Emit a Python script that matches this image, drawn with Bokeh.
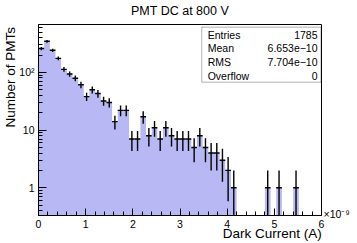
import numpy as np
from math import log10
from bokeh.plotting import figure
from bokeh.models import (Label, BoxAnnotation, FixedTicker, SingleIntervalTicker,
                          ColumnDataSource, LogAxis, LinearAxis)
from bokeh.embed import file_html
from bokeh.resources import INLINE

# ---------------- data ----------------
title_text = "PMT DC at 800 V"
x_title = "Dark Current (A)"
y_title = "Number of PMTs"
x_multiplier = "×10⁻⁹"
bin_start = 0.0      # units of 1e-9 A
bin_width = 0.12
counts = [259, 346, 242, 175, 113, 94, 79, 61, 38, 50,
          43, 32, 30, 14, 22, 22, 7, 7, 17, 8,
          11, 7, 11, 8, 7, 7, 7, 5, 8, 5,
          4, 4, 3, 2, 1, 0, 0, 0, 0, 0,
          1, 0, 1, 0, 0, 1, 0, 0, 0, 0]
x_ticks = [0, 1, 2, 3, 4, 5, 6]
y_ticks = [1, 10, 100]
y_tick_labels = ["1", "10", "10²"]
stats_names = ["Entries", "Mean", "RMS", "Overflow"]
stats_values = ["1785", "6.653e−10", "7.704e−10", "0"]

# ---------------- layout ----------------
FONT = "Liberation Sans"
FILL = "#b8b8f4"
X0, X1 = 0.0, 6.0
Y0, Y1 = 0.331, 676.0
FL, FR, FT, FB = 35, 321, 24, 217   # frame position in the picture (px)
W, H = 357, 243

def dx(px):
    return X0 + (px - FL) / (FR - FL) * (X1 - X0)

def dy(py):
    ly0, ly1 = log10(Y0), log10(Y1)
    return 10 ** (ly1 - (py - FT) / (FB - FT) * (ly1 - ly0))

p = figure(width=W, height=H, output_backend="svg", toolbar_location=None, title=None,
           x_range=(X0, X1), y_range=(Y0, Y1), y_axis_type="log",
           min_border_left=FL, min_border_right=W - FR,
           min_border_top=FT, min_border_bottom=H - FB)
p.background_fill_color = "white"
p.border_fill_color = "white"
p.outline_line_color = "black"
p.outline_line_width = 1
p.xgrid.visible = False
p.ygrid.visible = False

N = np.array(counts, dtype=float)
edges = bin_start + np.arange(len(counts) + 1) * bin_width
floor = Y0 * 0.5
fill_top = np.where(N > 0, N, floor)
p.varea_step(x=edges, y1=np.full(len(edges), floor),
             y2=np.append(fill_top, fill_top[-1]), step_mode="after",
             fill_color=FILL)

mask = N > 0
lo_edges = edges[:-1][mask]
hi_edges = edges[1:][mask]
centers = (lo_edges + hi_edges) / 2
vals = N[mask]
err = np.sqrt(vals)
src = ColumnDataSource(dict(left=lo_edges, right=hi_edges, x=centers, y=vals,
                            lo=np.maximum(vals - err, floor), hi=vals + err))
p.segment(x0="x", x1="x", y0="lo", y1="hi", source=src, line_color="black", line_width=1.4)
p.segment(x0="left", x1="right", y0="y", y1="y", source=src, line_color="black", line_width=1.4)

# main axes
for ax in (p.xaxis[0], p.yaxis[0]):
    ax.axis_line_color = "black"
    ax.major_tick_line_color = "black"
    ax.minor_tick_line_color = "black"
    ax.major_tick_out = 0
    ax.minor_tick_out = 0
    ax.major_label_text_font = FONT
    ax.major_label_text_font_size = "10.5px"
    ax.major_label_text_color = "black"
    ax.major_label_standoff = 4
    ax.axis_label = None

p.xaxis.ticker = SingleIntervalTicker(interval=1, num_minor_ticks=5)
p.xaxis.major_tick_in = 7
p.xaxis.minor_tick_in = 4

minor = [m * 10 ** k for k in range(-1, 3) for m in range(2, 10) if Y0 <= m * 10 ** k <= Y1]
p.yaxis.ticker = FixedTicker(ticks=y_ticks, minor_ticks=minor)
p.yaxis.major_label_overrides = dict(zip(y_ticks, y_tick_labels))
p.yaxis.major_tick_in = 8
p.yaxis.minor_tick_in = 4

# plot title: label of an unlined, tickless axis above the frame
p.add_layout(LinearAxis(ticker=FixedTicker(ticks=[], minor_ticks=[]),
                        axis_line_color=None, major_tick_line_color=None,
                        minor_tick_line_color=None, major_tick_in=0, major_tick_out=0,
                        minor_tick_in=0, minor_tick_out=0, major_label_standoff=0,
                        axis_label=title_text, axis_label_standoff=7,
                        axis_label_text_font=FONT, axis_label_text_font_size="12.5px",
                        axis_label_text_font_style="normal", axis_label_text_color="black"),
             "above")

# single-label axes (no line, no ticks) that place a text at one position
def text_axis(cls, pos, text, size, standoff, orientation="horizontal"):
    return cls(ticker=FixedTicker(ticks=[pos], minor_ticks=[]),
               major_label_overrides={pos: text},
               axis_line_color=None, major_tick_line_color=None, minor_tick_line_color=None,
               major_tick_in=0, major_tick_out=0, minor_tick_in=0, minor_tick_out=0,
               major_label_standoff=standoff, major_label_orientation=orientation,
               major_label_text_font=FONT, major_label_text_font_size=size,
               major_label_text_color="black")

# axis titles, right / top aligned as in the reference
p.add_layout(text_axis(LinearAxis, dx(271.2), x_title, "13.5px", -5), "below")
p.add_layout(text_axis(LogAxis, dy(77.4), y_title, "13.5px", -2, "vertical"), "left")
# multiplier at the right end of the x axis
p.add_layout(text_axis(LogAxis, dy(215), x_multiplier, "10.5px", 2), "right")

# stats box
p.add_layout(BoxAnnotation(left=dx(200), right=dx(320.5), top=dy(26.7), bottom=dy(82.3),
                           fill_color="white", fill_alpha=1.0, line_color="black",
                           line_width=1))
row_y = [34.3, 48.1, 61.9, 75.7]
for name, val, ry in zip(stats_names, stats_values, row_y):
    p.add_layout(Label(x=dx(206), y=dy(ry), text=name, text_align="left",
                       text_baseline="middle", text_font=FONT, text_font_size="10.5px",
                       text_color="black"))
    p.add_layout(Label(x=dx(317), y=dy(ry), text=val, text_align="right",
                       text_baseline="middle", text_font=FONT, text_font_size="10.5px",
                       text_color="black"))

open("out.html", "w").write(file_html(p, INLINE))
